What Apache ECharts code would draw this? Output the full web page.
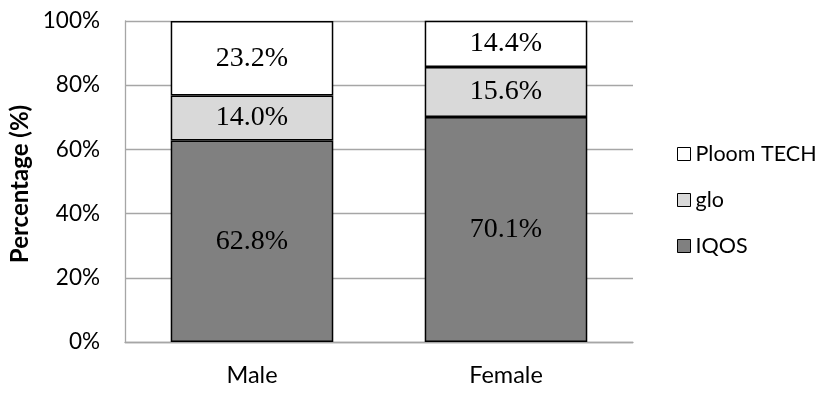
<!DOCTYPE html>
<html><head><meta charset="utf-8">
<script src="https://cdn.jsdelivr.net/npm/echarts@6/dist/echarts.min.js"></script>
<style>html,body{margin:0;padding:0;background:#fff}#c{width:828px;height:398px}</style>
</head><body><div id="c"></div>
<script>
var categories = ['Male', 'Female'];
var iqos = [62.8, 70.1];
var glo = [14.0, 15.6];
var ploom = [23.2, 14.4];
var yTicks = [0, 20, 40, 60, 80, 100];

var chart = echarts.init(document.getElementById('c'));
var sansFont = 'Lato';
var serifFont = 'Liberation Serif';
function mk(name, data, color) {
  return {
    name: name, type: 'bar', stack: 'total', data: data,
    barCategoryGap: '36%',
    itemStyle: { color: color, borderColor: '#000', borderWidth: 1.5 },
    label: { show: true, position: 'inside', fontFamily: serifFont, fontSize: 28, color: '#000',
      formatter: function (p) { return p.value.toFixed(1) + '%'; } }
  };
}
chart.setOption({
  animation: false,
  grid: { left: 125, top: 21, width: 508, height: 321, containLabel: false, outerBoundsMode: 'none' },
  legend: {
    orient: 'vertical', left: 672, top: 137, itemWidth: 13, itemHeight: 13, itemGap: 22,
    icon: 'rect',
    data: ['Ploom TECH', 'glo', 'IQOS'],
    itemStyle: { borderColor: '#000', borderWidth: 1 },
    textStyle: { fontFamily: sansFont, fontSize: 21.5, color: '#000', lineHeight: 24 }
  },
  xAxis: {
    type: 'category', data: categories,
    axisLine: { lineStyle: { color: '#a6a6a6', width: 1.3 } },
    axisTick: { show: false },
    axisLabel: { fontFamily: sansFont, fontSize: 23.5, color: '#000', margin: 21 }
  },
  yAxis: {
    type: 'value', min: 0, max: 100, interval: 20,
    name: 'Percentage (%)', nameLocation: 'middle', nameGap: 90, nameRotate: 90,
    nameTextStyle: { fontFamily: sansFont, fontSize: 24, fontWeight: 'bold', color: '#000', padding: [0, 5, 0, 0] },
    axisLine: { show: true, lineStyle: { color: '#a6a6a6', width: 1.3 } },
    axisTick: { show: false },
    splitLine: { lineStyle: { color: '#a6a6a6', width: 1.3 } },
    axisLabel: { fontFamily: sansFont, fontSize: 22.5, color: '#000', margin: 25,
      formatter: function (v) { return yTicks.indexOf(v) >= 0 ? v + '%' : ''; } }
  },
  series: [
    mk('IQOS', iqos, '#808080'),
    mk('glo', glo, '#d9d9d9'),
    mk('Ploom TECH', ploom, '#ffffff')
  ]
});
</script></body></html>
